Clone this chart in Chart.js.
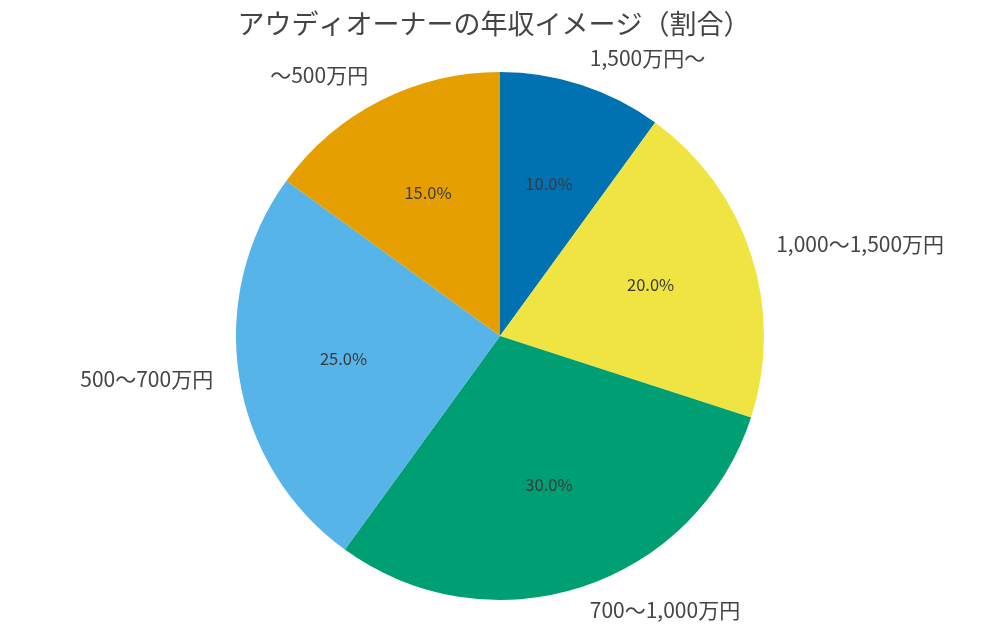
<!DOCTYPE html>
<html>
<head>
<meta charset="utf-8">
<script src="https://cdn.jsdelivr.net/npm/chart.js@4"></script>
<style>
  html, body { margin: 0; padding: 0; background: #fff; }
  #wrap { width: 1000px; height: 639px; }
</style>
</head>
<body>
<div id="wrap"><canvas id="incomePie"></canvas></div>
<script>
const FONT = "'Noto Sans CJK JP', 'Noto Sans', sans-serif"
const TEXT_COLOR = '#444'
const TEXT_LIFT = 2 // CJK font sits a bit low with 'middle' baseline

// data
const titleText = 'アウディオーナーの年収イメージ（割合）'
const categories = ['1,500万円〜', '1,000〜1,500万円', '700〜1,000万円', '500〜700万円', '〜500万円']
const shares = [10, 20, 30, 25, 15]
const sliceColors = ['#0072B2', '#F0E442', '#009E73', '#56B4E9', '#E69F00']

// outside category labels + inside percentages, placed from the arc elements
const sliceLabels = {
  id: 'sliceLabels',
  afterDatasetsDraw (chart) {
    const { ctx } = chart
    const meta = chart.getDatasetMeta(0)
    const total = shares.reduce((a, b) => a + b, 0)
    ctx.save()
    ctx.textBaseline = 'middle'
    meta.data.forEach((arc, i) => {
      const { x, y, startAngle, endAngle, outerRadius } = arc.getProps(['x', 'y', 'startAngle', 'endAngle', 'outerRadius'], true)
      const mid = (startAngle + endAngle) / 2
      const cos = Math.cos(mid)
      const sin = Math.sin(mid)

      ctx.fillStyle = '#3a3a3a'
      ctx.font = '16.5px ' + FONT
      ctx.textAlign = 'center'
      const pct = (shares[i] / total * 100).toFixed(1) + '%'
      ctx.fillText(pct, x + cos * outerRadius * 0.6, y + sin * outerRadius * 0.6 - TEXT_LIFT)

      ctx.fillStyle = TEXT_COLOR
      ctx.font = '21px ' + FONT
      ctx.textAlign = cos >= 0 ? 'left' : 'right'
      const r = outerRadius * 1.1
      ctx.fillText(categories[i], x + cos * r, y + sin * r - TEXT_LIFT)
    })
    ctx.restore()
  }
}

// title drawn at fixed spot above the pie
const topTitle = {
  id: 'topTitle',
  afterDraw (chart) {
    const { ctx } = chart
    ctx.save()
    ctx.fillStyle = TEXT_COLOR
    ctx.font = '27px ' + FONT
    ctx.textAlign = 'center'
    ctx.textBaseline = 'middle'
    ctx.fillText(titleText, 494, 24)
    ctx.restore()
  }
}

// eslint-disable-next-line no-unused-vars
const pieChart = new Chart(document.getElementById('incomePie'), {
  type: 'pie',
  data: {
    labels: categories,
    datasets: [{
      data: shares,
      backgroundColor: sliceColors,
      borderWidth: 0
    }]
  },
  options: {
    responsive: true,
    maintainAspectRatio: false,
    animation: false,
    layout: {
      padding: { top: 72, bottom: 39, left: 100, right: 100 }
    },
    plugins: {
      legend: { display: false },
      title: { display: false },
      tooltip: { enabled: false }
    }
  },
  plugins: [sliceLabels, topTitle]
})
</script>
</body>
</html>
